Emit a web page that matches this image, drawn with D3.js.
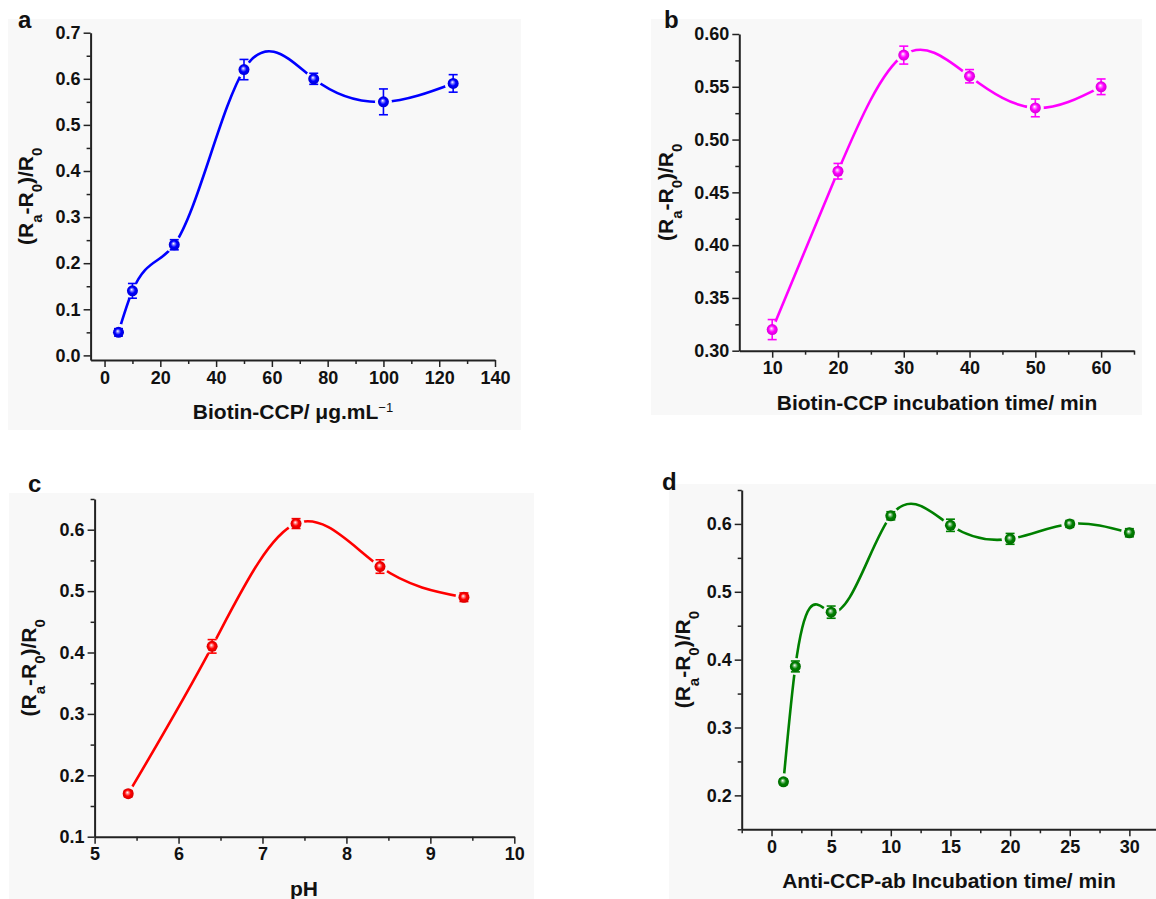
<!DOCTYPE html>
<html lang="en">
<head>
<meta charset="UTF-8">
<title>Optimisation panels a-d</title>
<script src="https://d3js.org/d3.v7.min.js"></script>
<style>
  body { margin: 0; background: #ffffff; }
  svg { display: block; font-family: "Liberation Sans", Arial, sans-serif; font-weight: bold; }
  .tick text { font-size: 18px; font-weight: bold; fill: #111; }
</style>
</head>
<body>
<script>
// ---- data ----
const aDose = [5, 10, 25, 50, 75, 100, 125];
const aResp = [0.05, 0.14, 0.24, 0.62, 0.60, 0.55, 0.59];
const aErr  = [0.008, 0.016, 0.011, 0.022, 0.012, 0.028, 0.019];

const bTime = [10, 20, 30, 40, 50, 60];
const bResp = [0.32, 0.47, 0.58, 0.56, 0.53, 0.55];
const bErr  = [0.0095, 0.0074, 0.0085, 0.0063, 0.0084, 0.0074];

const cPH   = [5.4, 6.4, 7.4, 8.4, 9.4];
const cResp = [0.17, 0.41, 0.61, 0.54, 0.49];
const cErr  = [0.005, 0.011, 0.008, 0.011, 0.007];

const dTime = [1, 2, 5, 10, 15, 20, 25, 30];
const dResp = [0.22, 0.39, 0.47, 0.612, 0.598, 0.578, 0.600, 0.587];
const dErr  = [0.004, 0.008, 0.009, 0.006, 0.009, 0.008, 0.005, 0.006];

// tick values
const aXTicks = [0, 20, 40, 60, 80, 100, 120, 140];
const aYTicks = [0, 0.1, 0.2, 0.3, 0.4, 0.5, 0.6, 0.7];
const bXTicks = [10, 20, 30, 40, 50, 60];
const bYTicks = [0.30, 0.35, 0.40, 0.45, 0.50, 0.55, 0.60];
const cXTicks = [5, 6, 7, 8, 9, 10];
const cYTicks = [0.1, 0.2, 0.3, 0.4, 0.5, 0.6];
const dXTicks = [0, 5, 10, 15, 20, 25, 30];
const dYTicks = [0.2, 0.3, 0.4, 0.5, 0.6];

const W = 1156, H = 899;
const bg = "#f8f8f8";

// natural cubic spline of y as a function of x (like Origin's "spline" connector)
function SplineX(context) { this._context = context; }
SplineX.prototype = {
    areaStart: function() { this._line = 0; },
    areaEnd: function() { this._line = NaN; },
    lineStart: function() { this._x = []; this._y = []; },
    point: function(x, y) { this._x.push(+x); this._y.push(+y); },
    lineEnd: function() {
        const xs = this._x, ys = this._y, n = xs.length, ctx = this._context;
        if (!n) return;
        ctx.moveTo(xs[0], ys[0]);
        if (n < 3) { if (n === 2) ctx.lineTo(xs[1], ys[1]); return; }
        const h = [], M = new Array(n).fill(0);
        for (let i = 0; i < n - 1; i++) h[i] = xs[i + 1] - xs[i];
        const a = [], b = [], c = [], r = [];
        for (let i = 1; i < n - 1; i++) {
            a.push(h[i - 1]); b.push(2 * (h[i - 1] + h[i])); c.push(h[i]);
            r.push(6 * ((ys[i + 1] - ys[i]) / h[i] - (ys[i] - ys[i - 1]) / h[i - 1]));
        }
        const m = n - 2;
        for (let i = 1; i < m; i++) {
            const w = a[i] / b[i - 1];
            b[i] -= w * c[i - 1];
            r[i] -= w * r[i - 1];
        }
        const sol = new Array(m);
        sol[m - 1] = r[m - 1] / b[m - 1];
        for (let i = m - 2; i >= 0; i--) sol[i] = (r[i] - c[i] * sol[i + 1]) / b[i];
        for (let i = 0; i < m; i++) M[i + 1] = sol[i];
        for (let i = 0; i < n - 1; i++) {
            const hi = h[i], s = (ys[i + 1] - ys[i]) / hi;
            const d0 = s - hi * (2 * M[i] + M[i + 1]) / 6;
            const d1 = s + hi * (M[i] + 2 * M[i + 1]) / 6;
            ctx.bezierCurveTo(xs[i] + hi / 3, ys[i] + d0 * hi / 3,
                              xs[i + 1] - hi / 3, ys[i + 1] - d1 * hi / 3,
                              xs[i + 1], ys[i + 1]);
        }
    }
};
function curveSplineX(context) { return new SplineX(context); }

const svg = d3.select("body").append("svg")
    .attr("width", W)
    .attr("height", H);

const defs = svg.append("defs");

function ballGradient(id, color) {
    const g = defs.append("radialGradient")
        .attr("id", id)
        .attr("cx", "50%").attr("cy", "50%").attr("r", "50%")
        .attr("fx", "42%").attr("fy", "38%");
    g.append("stop").attr("offset", "0%").attr("stop-color", "#ffffff");
    g.append("stop").attr("offset", "28%").attr("stop-color", d3.interpolateRgb("#ffffff", color)(0.55));
    g.append("stop").attr("offset", "55%").attr("stop-color", color);
    g.append("stop").attr("offset", "100%").attr("stop-color", d3.color(color).darker(0.5));
}

const panels = [
    { id: "a", x: aDose, y: aResp, e: aErr, color: "#0000ff",
      box: [8, 19, 521, 430], letter: [18, 28],
      xDom: [-5, 140], xRng: [90.6, 495], yDom: [-0.01, 0.7], yRng: [360, 32.7],
      xTicks: aXTicks, xMinor: d3.range(10, 140, 20), yTicks: aYTicks, yMinor: d3.range(0.05, 0.7, 0.1),
      yFmt: d3.format(".1f"), yTitleOff: 58, xTitleX: 293,
      xTitle: ["Biotin-CCP/ \u03bcg.mL", "\u22121"] },
    { id: "b", x: bTime, y: bResp, e: bErr, color: "#ff00ff",
      box: [651, 19, 1142, 415], letter: [664, 28],
      xDom: [5, 65], xRng: [739.3, 1134], yDom: [0.30, 0.60], yRng: [350.7, 34],
      xTicks: bXTicks, xMinor: [15, 25, 35, 45, 55, 65], yTicks: bYTicks, yMinor: d3.range(0.325, 0.6, 0.05),
      yFmt: d3.format(".2f"), yTitleOff: 66, xTitleX: 937,
      xTitle: ["Biotin-CCP incubation time/ min"] },
    { id: "c", x: cPH, y: cResp, e: cErr, color: "#ff0000",
      box: [9, 493, 534, 899], letter: [28, 492],
      xDom: [5, 10], xRng: [94.6, 514.3], yDom: [0.1, 0.65], yRng: [836.7, 499],
      xTicks: cXTicks, xMinor: [5.5, 6.5, 7.5, 8.5, 9.5], yTicks: cYTicks, yMinor: d3.range(0.15, 0.66, 0.1),
      yFmt: d3.format(".1f"), yTitleOff: 59, xTitleX: 304,
      xTitle: ["pH"] },
    { id: "d", x: dTime, y: dResp, e: dErr, color: "#008000",
      box: [669, 484, 1156, 899], letter: [662, 490],
      xDom: [-2.5, 32.5], xRng: [741.7, 1159.2], yDom: [0.15, 0.65], yRng: [829.3, 490],
      xTicks: dXTicks, xMinor: [-2.5, 2.5, 7.5, 12.5, 17.5, 22.5, 27.5, 32.5], yTicks: dYTicks, yMinor: d3.range(0.15, 0.66, 0.1),
      yFmt: d3.format(".1f"), yTitleOff: 52, xTitleX: 949,
      xTitle: ["Anti-CCP-ab Incubation time/ min"] }
];

panels.forEach(function(p) {
    const g = svg.append("g");
    const xScale = d3.scaleLinear().domain(p.xDom).range(p.xRng);
    const yScale = d3.scaleLinear().domain(p.yDom).range(p.yRng);

    // panel background
    g.append("rect")
        .attr("x", p.box[0]).attr("y", p.box[1])
        .attr("width", p.box[2] - p.box[0]).attr("height", p.box[3] - p.box[1])
        .attr("fill", bg);

    // panel letter
    g.append("text")
        .attr("x", p.letter[0]).attr("y", p.letter[1])
        .attr("font-size", 24)
        .attr("fill", "#111")
        .text(p.id);

    // minor ticks first, then majors
    const x0 = p.xRng[0], yBase = p.yRng[0];
    g.append("g")
        .attr("transform", "translate(0," + yBase + ")")
        .call(d3.axisBottom(xScale).tickValues(p.xMinor).tickSize(4).tickSizeOuter(0).tickFormat(""))
        .call(function(s) { s.select(".domain").remove(); s.selectAll("line").attr("stroke", "#222").attr("stroke-width", 1.5); });
    g.append("g")
        .attr("transform", "translate(" + x0 + ",0)")
        .call(d3.axisLeft(yScale).tickValues(p.yMinor).tickSize(4).tickSizeOuter(0).tickFormat(""))
        .call(function(s) { s.select(".domain").remove(); s.selectAll("line").attr("stroke", "#222").attr("stroke-width", 1.5); });

    g.append("g")
        .attr("transform", "translate(0," + yBase + ")")
        .call(d3.axisBottom(xScale).tickValues(p.xTicks).tickSize(7).tickSizeOuter(0).tickPadding(4).tickFormat(d3.format("d")))
        .call(function(s) {
            s.select(".domain").attr("stroke", "#222").attr("stroke-width", 2);
            s.selectAll("line").attr("stroke", "#222").attr("stroke-width", 1.5);
            s.selectAll("text").attr("font-family", null).attr("font-size", null);
        });
    g.append("g")
        .attr("transform", "translate(" + x0 + ",0)")
        .call(d3.axisLeft(yScale).tickValues(p.yTicks).tickSize(7).tickSizeOuter(0).tickPadding(3).tickFormat(p.yFmt))
        .call(function(s) {
            s.select(".domain").attr("stroke", "#222").attr("stroke-width", 2);
            s.selectAll("line").attr("stroke", "#222").attr("stroke-width", 1.5);
            s.selectAll("text").attr("font-family", null).attr("font-size", null);
        });

    // axis titles
    const xt = g.append("text")
        .attr("x", p.xTitleX)
        .attr("y", yBase + 59)
        .attr("text-anchor", "middle")
        .attr("font-size", 21)
        .attr("fill", "#111")
        .text(p.xTitle[0]);
    if (p.xTitle[1]) {
        xt.append("tspan").attr("baseline-shift", "super").attr("font-size", 13).attr("font-weight", "normal").text(p.xTitle[1]);
    }

    const ty = p.xRng[0] - p.yTitleOff, cy = (p.yRng[0] + p.yRng[1]) / 2;
    const yt = g.append("text")
        .attr("x", ty).attr("y", cy)
        .attr("transform", "rotate(-90," + ty + "," + cy + ")")
        .attr("text-anchor", "middle")
        .attr("font-size", 21)
        .attr("fill", "#111");
    yt.append("tspan").text("(R");
    yt.append("tspan").attr("baseline-shift", "sub").attr("font-size", 15).text("a");
    yt.append("tspan").text("-R");
    yt.append("tspan").attr("baseline-shift", "sub").attr("font-size", 15).text("0");
    yt.append("tspan").text(")/R");
    yt.append("tspan").attr("baseline-shift", "sub").attr("font-size", 15).text("0");

    // fitted curve
    const pts = p.x.map(function(v, i) { return [v, p.y[i], p.e[i]]; });
    const line = d3.line()
        .x(function(d) { return xScale(d[0]); })
        .y(function(d) { return yScale(d[1]); })
        .curve(curveSplineX);
    g.append("path")
        .datum(pts)
        .attr("d", line)
        .attr("fill", "none")
        .attr("stroke", p.color)
        .attr("stroke-width", 2.6);

    // gap around the symbols
    g.selectAll(".halo")
        .data(pts)
        .enter().append("circle")
        .attr("cx", function(d) { return xScale(d[0]); })
        .attr("cy", function(d) { return yScale(d[1]); })
        .attr("r", 8.5)
        .attr("fill", bg);

    // error bars
    const eb = g.selectAll(".err")
        .data(pts)
        .enter().append("g")
        .attr("stroke", p.color)
        .attr("stroke-width", 1.6);
    eb.append("line")
        .attr("x1", function(d) { return xScale(d[0]); })
        .attr("x2", function(d) { return xScale(d[0]); })
        .attr("y1", function(d) { return yScale(d[1] - d[2]); })
        .attr("y2", function(d) { return yScale(d[1] + d[2]); });
    [-1, 1].forEach(function(sgn) {
        eb.append("line")
            .attr("x1", function(d) { return xScale(d[0]) - 4.5; })
            .attr("x2", function(d) { return xScale(d[0]) + 4.5; })
            .attr("y1", function(d) { return yScale(d[1] + sgn * d[2]); })
            .attr("y2", function(d) { return yScale(d[1] + sgn * d[2]); });
    });

    // symbols
    ballGradient("ball-" + p.id, p.color);
    g.selectAll(".sym")
        .data(pts)
        .enter().append("circle")
        .attr("cx", function(d) { return xScale(d[0]); })
        .attr("cy", function(d) { return yScale(d[1]); })
        .attr("r", 5.5)
        .attr("fill", "url(#ball-" + p.id + ")");
});
</script>
</body>
</html>
